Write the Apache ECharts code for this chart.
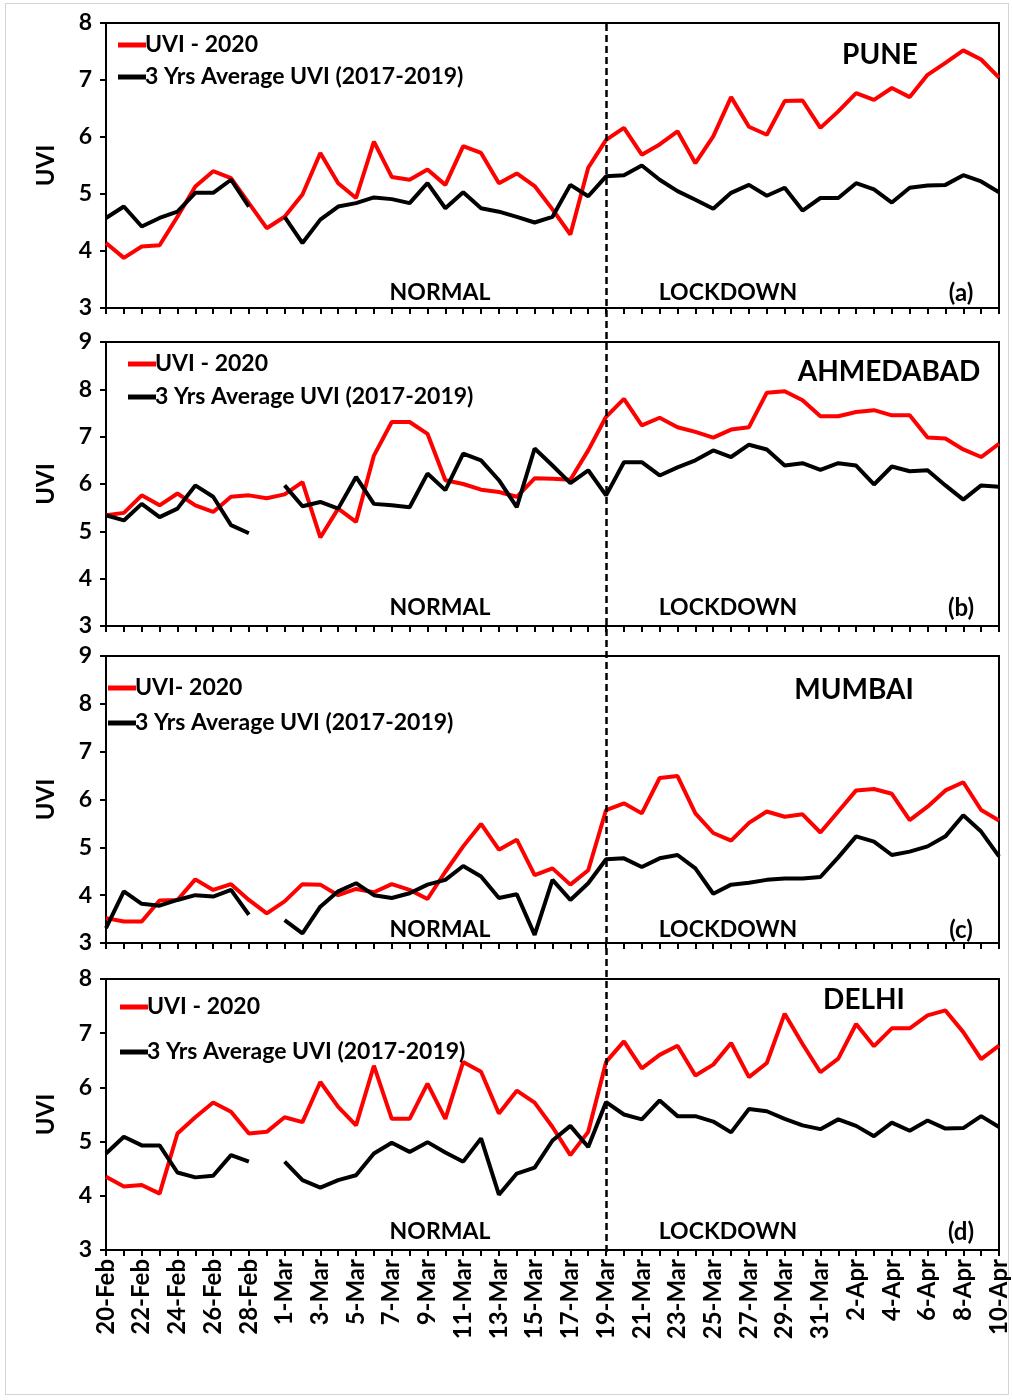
<!DOCTYPE html>
<html>
<head>
<meta charset="utf-8">
<script src="https://cdn.jsdelivr.net/npm/echarts@6/dist/echarts.min.js"></script>
<style>
html,body{margin:0;padding:0;background:#fff;}
#frame{position:absolute;left:5px;top:3px;width:1004px;height:1392px;border:1px solid #d4d4d4;box-sizing:border-box;}
#chart{position:absolute;left:0;top:0;width:1013px;height:1400px;}
</style>
</head>
<body>
<div id="frame"></div>
<div id="chart"></div>
<script>
const categories = ['20-Feb','21-Feb','22-Feb','23-Feb','24-Feb','25-Feb','26-Feb','27-Feb','28-Feb','29-Feb',
 '1-Mar','2-Mar','3-Mar','4-Mar','5-Mar','6-Mar','7-Mar','8-Mar','9-Mar','10-Mar',
 '11-Mar','12-Mar','13-Mar','14-Mar','15-Mar','16-Mar','17-Mar','18-Mar','19-Mar','20-Mar',
 '21-Mar','22-Mar','23-Mar','24-Mar','25-Mar','26-Mar','27-Mar','28-Mar','29-Mar','30-Mar',
 '31-Mar','1-Apr','2-Apr','3-Apr','4-Apr','5-Apr','6-Apr','7-Apr','8-Apr','9-Apr','10-Apr'];

const puneUVI2020 = [4.14,3.88,4.08,4.1,4.6,5.13,5.4,5.28,4.84,4.4,
 4.6,4.99,5.72,5.19,4.93,5.92,5.3,5.25,5.43,5.16,
 5.84,5.72,5.19,5.36,5.14,4.73,4.29,5.46,5.95,6.16,
 5.69,5.87,6.1,5.54,6.01,6.7,6.18,6.04,6.63,6.64,
 6.16,6.45,6.77,6.65,6.86,6.7,7.09,7.3,7.52,7.36,7.04];
const puneAvg = [4.58,4.78,4.43,4.58,4.69,5.02,5.02,5.25,4.78,null,
 4.6,4.14,4.55,4.78,4.84,4.94,4.91,4.84,5.19,4.75,
 5.03,4.75,4.69,4.6,4.5,4.6,5.16,4.96,5.31,5.33,
 5.5,5.25,5.05,4.9,4.74,5.02,5.16,4.97,5.11,4.71,
 4.93,4.93,5.19,5.08,4.85,5.11,5.15,5.16,5.33,5.22,5.03];

const ahmUVI2020 = [5.34,5.39,5.76,5.55,5.8,5.55,5.41,5.73,5.76,5.7,
 5.78,6.04,4.87,5.48,5.2,6.6,7.31,7.31,7.06,6.08,
 6.0,5.88,5.83,5.73,6.12,6.11,6.09,6.71,7.42,7.8,
 7.24,7.4,7.2,7.1,6.98,7.15,7.2,7.93,7.96,7.77,
 7.43,7.43,7.52,7.56,7.45,7.45,6.98,6.96,6.73,6.57,6.85];
const ahmAvg = [5.34,5.23,5.58,5.3,5.48,5.97,5.73,5.13,4.96,null,
 5.97,5.53,5.62,5.48,6.15,5.58,5.55,5.51,6.22,5.87,
 6.64,6.5,6.08,5.51,6.75,6.39,6.02,6.29,5.76,6.46,
 6.46,6.18,6.35,6.5,6.71,6.57,6.83,6.73,6.39,6.44,
 6.3,6.44,6.39,5.99,6.37,6.27,6.29,5.97,5.67,5.97,5.94];

const mumUVI2020 = [3.52,3.45,3.45,3.89,3.9,4.33,4.11,4.23,3.9,3.62,
 3.87,4.23,4.22,4.0,4.13,4.06,4.23,4.11,3.92,4.49,
 5.02,5.49,4.95,5.16,4.42,4.56,4.22,4.52,5.78,5.92,
 5.71,6.45,6.49,5.71,5.3,5.14,5.51,5.75,5.64,5.69,
 5.31,5.75,6.19,6.22,6.12,5.57,5.85,6.19,6.36,5.78,5.56];
const mumAvg = [3.31,4.08,3.82,3.78,3.9,4.0,3.97,4.11,3.59,null,
 3.48,3.2,3.76,4.08,4.25,4.0,3.94,4.04,4.22,4.32,
 4.61,4.39,3.94,4.02,3.17,4.32,3.9,4.25,4.75,4.77,
 4.59,4.77,4.84,4.56,4.03,4.22,4.26,4.32,4.35,4.35,
 4.38,4.79,5.23,5.12,4.84,4.91,5.02,5.23,5.67,5.33,4.81];

const delUVI2020 = [4.35,4.17,4.2,4.04,5.15,5.45,5.72,5.55,5.15,5.18,
 5.45,5.36,6.1,5.64,5.3,6.4,5.42,5.42,6.07,5.42,
 6.47,6.29,5.52,5.94,5.72,5.27,4.75,5.18,6.47,6.85,
 6.35,6.6,6.77,6.22,6.42,6.82,6.19,6.45,7.36,6.8,
 6.28,6.53,7.17,6.76,7.09,7.09,7.33,7.42,7.02,6.52,6.77];
const delAvg = [4.78,5.09,4.93,4.93,4.43,4.34,4.37,4.75,4.63,null,
 4.63,4.29,4.15,4.29,4.38,4.78,4.98,4.81,4.99,4.8,
 4.63,5.06,4.02,4.41,4.52,5.02,5.29,4.9,5.73,5.5,
 5.41,5.76,5.47,5.47,5.37,5.17,5.6,5.56,5.42,5.3,
 5.23,5.41,5.29,5.1,5.35,5.2,5.39,5.24,5.25,5.47,5.27];

const lockdownDate = '19-Mar';
const panelNames = ['PUNE','AHMEDABAD','MUMBAI','DELHI'];
const panelTags = ['(a)','(b)','(c)','(d)'];
const redNames = ['UVI - 2020','UVI - 2020','UVI- 2020','UVI - 2020'];
const avgName = '3 Yrs Average UVI (2017-2019)';
const yMins = [3,3,3,3];
const yMaxs = [8,9,9,8];

const redSeries = [puneUVI2020, ahmUVI2020, mumUVI2020, delUVI2020];
const blackSeries = [puneAvg, ahmAvg, mumAvg, delAvg];

const FONT = 'Lato';
const L = 106, R = 14;
const grids = [
  {top:23, height:285},
  {top:342, height:284},
  {top:656, height:287},
  {top:979, height:271}
];
const LEG_FS = 23;
const legendPos = [
  {left:113, center:41, second:73},
  {left:123, center:360, second:393},
  {left:103, center:684, second:719},
  {left:115, center:1003, second:1048}
];
const cityPos = [[880,55],[889,372],[854,690],[864,1000]];
const bottomTextY = [293,608,930,1232];

const option = {
  animation:false,
  backgroundColor:'transparent',
  textStyle:{fontFamily:FONT},
  grid: grids.map(g=>({left:L,right:R,top:g.top,height:g.height,show:true,borderColor:'#000',borderWidth:2,backgroundColor:'transparent'}))
    .concat([{left:L,right:R,top:20,height:1232,show:false}]),
  xAxis: grids.map((g,i)=>({
    type:'category', gridIndex:i, data:categories, boundaryGap:false,
    axisLine:{lineStyle:{color:'#000',width:2}},
    axisTick:{show:true,interval:0,length:6,inside:false,lineStyle:{color:'#000',width:2}},
    axisLabel:{show:i===3,interval:1,rotate:90,color:'#000',fontSize:24,fontWeight:'bold',fontFamily:FONT,margin:9},
    splitLine:{show:false}
  })).concat([{type:'category',gridIndex:4,data:categories,boundaryGap:false,show:false}]),
  yAxis: grids.map((g,i)=>({
    type:'value', gridIndex:i, min:yMins[i], max:yMaxs[i], interval:1,
    name:'UVI', nameLocation:'middle', nameGap:48, nameRotate:90,
    nameTextStyle:{color:'#000',fontSize:24,fontWeight:'bold',fontFamily:FONT},
    axisLine:{show:true,lineStyle:{color:'#000',width:2}},
    axisTick:{show:true,length:6,lineStyle:{color:'#000',width:2}},
    axisLabel:{color:'#000',fontSize:23,fontWeight:'bold',fontFamily:FONT,margin:14},
    splitLine:{show:false}
  })).concat([{type:'value',gridIndex:4,min:0,max:1,show:false}]),
  legend: grids.map((g,i)=>({
    left:legendPos[i].left, top:legendPos[i].center - LEG_FS/2 - 1, orient:'vertical',
    itemGap:(legendPos[i].second - legendPos[i].center) - LEG_FS, itemWidth:28, itemHeight:5, icon:'rect',
    selectedMode:false,
    textStyle:{color:'#000',fontSize:LEG_FS,fontWeight:'bold',fontFamily:FONT,padding:[0,0,0,-6]},
    data:[{name:redNames[i]},{name:avgName}]
  })),
  series: [],
  graphic: []
};

for (let i=0;i<4;i++){
  option.series.push({
    type:'line', name:redNames[i], xAxisIndex:i, yAxisIndex:i, data:redSeries[i],
    showSymbol:false, symbol:'none', color:'#ff0000',
    lineStyle:{color:'#ff0000',width:4}, connectNulls:false
  });
  option.series.push({
    type:'line', name:avgName, xAxisIndex:i, yAxisIndex:i, data:blackSeries[i],
    showSymbol:false, symbol:'none', color:'#000',
    lineStyle:{color:'#000',width:4}, connectNulls:false
  });
  option.graphic.push({type:'text',x:cityPos[i][0],y:cityPos[i][1],
    style:{text:panelNames[i],fill:'#000',font:'bold 28px '+FONT,textAlign:'center',textVerticalAlign:'middle'}});
  option.graphic.push({type:'text',x:440,y:bottomTextY[i],
    style:{text:'NORMAL',fill:'#000',font:'bold 23px '+FONT,textAlign:'center',textVerticalAlign:'middle'}});
  option.graphic.push({type:'text',x:728,y:bottomTextY[i],
    style:{text:'LOCKDOWN',fill:'#000',font:'bold 23px '+FONT,textAlign:'center',textVerticalAlign:'middle'}});
  option.graphic.push({type:'text',x:961,y:bottomTextY[i],
    style:{text:panelTags[i],fill:'#000',font:'bold 24px '+FONT,textAlign:'center',textVerticalAlign:'middle'}});
}

option.series.push({
  type:'line', name:'lockdown', xAxisIndex:4, yAxisIndex:4, data:[], silent:true,
  markLine:{symbol:'none',silent:true,animation:false,label:{show:false},
    lineStyle:{color:'#000',width:2.5,type:[7,4]},
    data:[{xAxis:lockdownDate}]}
});

const chart = echarts.init(document.getElementById('chart'), null, {renderer:'canvas'});
chart.setOption(option);
</script>
</body>
</html>
